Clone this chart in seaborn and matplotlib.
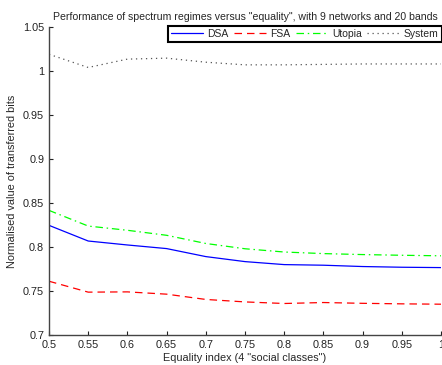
import matplotlib
matplotlib.use("Agg")
import matplotlib.pyplot as plt
import seaborn as sns
import pandas as pd

equality = [0.5, 0.55, 0.6, 0.65, 0.7, 0.75, 0.8, 0.85, 0.9, 0.95, 1.0]
dsa = [0.8246, 0.8068, 0.8023, 0.7982, 0.7891, 0.7834, 0.7800, 0.7793, 0.7778, 0.7770, 0.7766]
fsa = [0.7611, 0.7487, 0.7490, 0.7464, 0.7404, 0.7376, 0.7358, 0.7369, 0.7360, 0.7354, 0.7350]
utopia = [0.8416, 0.8238, 0.8190, 0.8133, 0.8040, 0.7980, 0.7943, 0.7925, 0.7914, 0.7906, 0.7900]
system = [1.019, 1.004, 1.0135, 1.0146, 1.010, 1.007, 1.007, 1.0075, 1.008, 1.008, 1.008]

series_names = ["DSA", "FSA", "Utopia", "System"]
colors = {"DSA": "#0000ff", "FSA": "#ff0000", "Utopia": "#00ff00", "System": "#555555"}
dashes = {"DSA": "", "FSA": (6, 4), "Utopia": (6, 3, 1.2, 3), "System": (1, 3)}

df = pd.DataFrame({"x": equality * 4,
                   "y": dsa + fsa + utopia + system,
                   "series": sum([[n] * len(equality) for n in series_names], [])})

sns.set_theme(style="ticks")
plt.rcParams['font.family'] = ['Liberation Sans', 'DejaVu Sans']
FS = 7.8

fig = plt.figure(figsize=(4.42, 3.65), dpi=100)
ax = fig.add_axes([49 / 442, 1 - 335 / 365, (441 - 49) / 442, (335 - 27) / 365])

sns.lineplot(data=df, x="x", y="y", hue="series", style="series",
             palette=colors, dashes=dashes, hue_order=series_names,
             style_order=series_names, linewidth=0.9, ax=ax, legend=True)

ax.set_xlim(0.5, 1.0)
ax.set_ylim(0.7, 1.05)
ax.set_xticks(equality)
ax.set_xticklabels(["0.5", "0.55", "0.6", "0.65", "0.7", "0.75", "0.8", "0.85", "0.9", "0.95", "1"])
ax.set_yticks([0.7, 0.75, 0.8, 0.85, 0.9, 0.95, 1.0, 1.05])
ax.set_yticklabels(["0.7", "0.75", "0.8", "0.85", "0.9", "0.95", "1", "1.05"])
ax.tick_params(direction="in", length=3, labelsize=FS, width=0.8, colors="#222222", pad=3.5)
for s in ["top", "right"]:
    ax.spines[s].set_visible(False)
for s in ["left", "bottom"]:
    ax.spines[s].set_color("#444444")
    ax.spines[s].set_linewidth(1.0)

ax.set_xlabel('Equality index (4 "social classes")', fontsize=FS, labelpad=2)
ax.set_ylabel("Normalised value of transferred bits", fontsize=FS, labelpad=4)
ax.set_title('Performance of spectrum regimes versus "equality", with 9 networks and 20 bands',
             fontsize=7.55, pad=5)

handles, labels = ax.get_legend_handles_labels()
leg = ax.legend(handles, labels, ncol=4, loc="upper left",
                bbox_to_anchor=(168 / 442, 1 - 26 / 365), bbox_transform=fig.transFigure,
                fontsize=7.5, frameon=True, fancybox=False, handlelength=3.1,
                handletextpad=0.4, columnspacing=0.5, borderpad=0.3, borderaxespad=0)
leg.get_frame().set_edgecolor("black")
leg.get_frame().set_linewidth(1.5)
leg.get_frame().set_alpha(1)

fig.savefig("out.png", dpi=100)
